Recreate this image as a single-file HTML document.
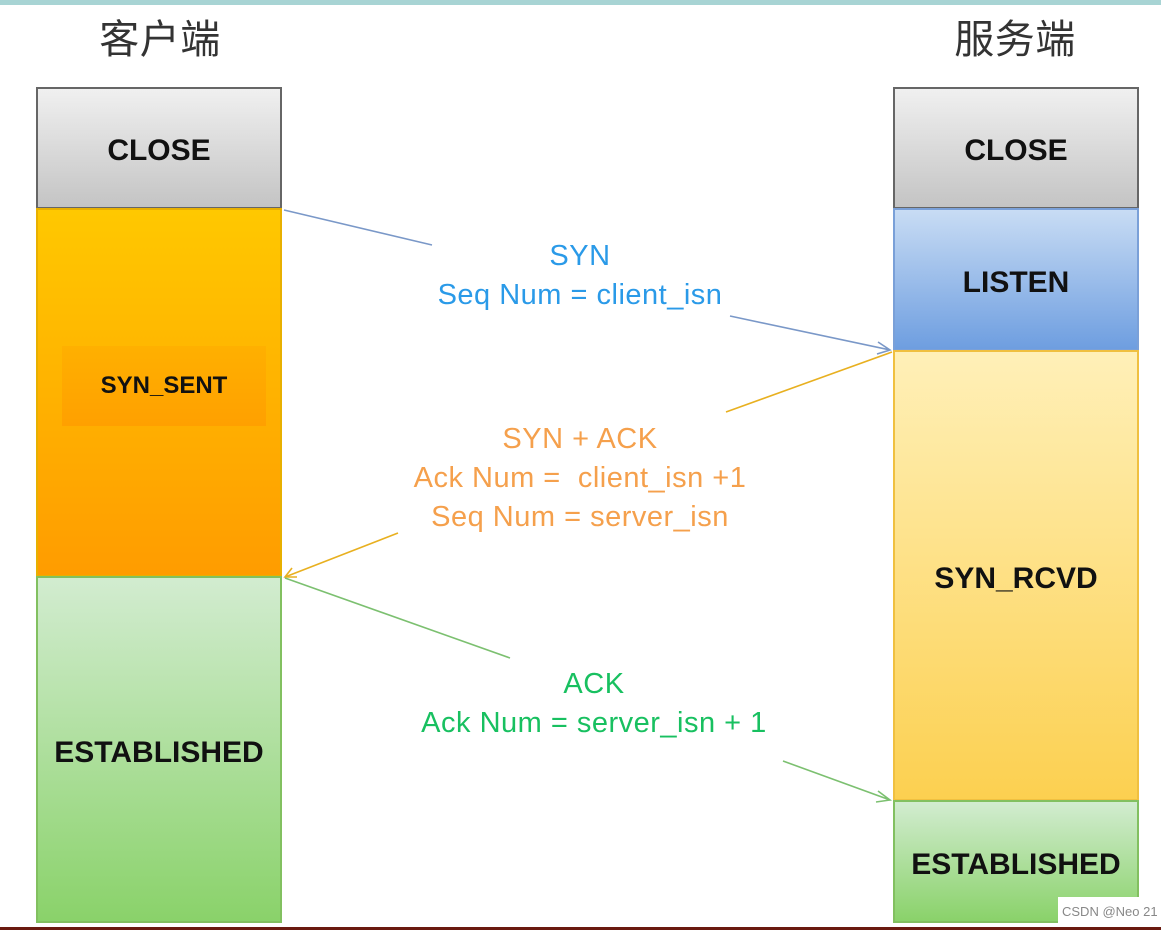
<!DOCTYPE html>
<html><head><meta charset="utf-8"><style>
body{margin:0;width:1161px;height:930px;background:#fff;position:relative;overflow:hidden;font-family:"Liberation Sans","Noto Sans CJK SC",sans-serif}
.b{position:absolute;box-sizing:border-box;border:2.5px solid;display:flex;align-items:center;justify-content:center;font-weight:bold;font-size:30px;color:#111;padding-top:6px}
.t{position:absolute;text-align:center;font-size:29px;line-height:39px;letter-spacing:0.5px}
</style></head><body>
<div style="position:absolute;left:0;top:0;width:1161px;height:5px;background:#a8d4d4"></div>
<div style="position:absolute;left:0;top:927px;width:1161px;height:3px;background:#6a1a10"></div>
<div class="t" style="left:60px;top:18px;width:200px;font-size:40px;line-height:44px;color:#333">客户端</div>
<div class="t" style="left:915px;top:18px;width:200px;font-size:40px;line-height:44px;color:#333">服务端</div>

<div class="b" style="left:36px;top:87px;width:246px;height:122px;border-color:#666;background:linear-gradient(#f0f0f0,#c4c4c4)">CLOSE</div>
<div class="b" style="left:36px;top:208px;width:246px;height:369px;border-color:#e8b000;background:linear-gradient(#ffc800,#ff9c00)"></div>
<div style="position:absolute;left:62px;top:346px;width:204px;height:80px;background:linear-gradient(#ffb000,#ffa000);display:flex;align-items:center;justify-content:center;font-weight:bold;font-size:24px;color:#111">SYN_SENT</div>
<div class="b" style="left:36px;top:576px;width:246px;height:347px;border-color:#82c060;background:linear-gradient(#d2ecd0,#8ad26a)">ESTABLISHED</div>

<div class="b" style="left:893px;top:87px;width:246px;height:122px;border-color:#666;background:linear-gradient(#f0f0f0,#c4c4c4)">CLOSE</div>
<div class="b" style="left:893px;top:208px;width:246px;height:143px;border-color:#7aa0d8;background:linear-gradient(#c8dcf4,#6e9ee0)">LISTEN</div>
<div class="b" style="left:893px;top:350px;width:246px;height:451px;border-color:#f0c040;background:linear-gradient(#fff0b8,#fcd050)">SYN_RCVD</div>
<div class="b" style="left:893px;top:800px;width:246px;height:123px;border-color:#82c060;background:linear-gradient(#d2ecd0,#8ad26a)">ESTABLISHED</div>

<svg width="1161" height="930" style="position:absolute;left:0;top:0">
<g stroke-width="1.6" fill="none">
<path d="M284 210 L432 245 M730 316 L890 350 M878 342 L890 350 L877 354" stroke="#7a98c8"/>
<path d="M892 352 L726 412 M398 533 L285 577 M292 568 L285 577 L297 577" stroke="#e8b020"/>
<path d="M285 578 L510 658 M783 761 L890 800 M878 791 L890 800 L876 802" stroke="#7cc070"/>
</g></svg>

<div class="t" style="left:380px;top:237px;width:400px;color:#2a9ae8">SYN<br>Seq Num = client_isn</div>
<div class="t" style="left:380px;top:420px;width:400px;color:#f5a04c">SYN + ACK<br>Ack Num = &nbsp;client_isn +1<br>Seq Num = server_isn</div>
<div class="t" style="left:394px;top:665px;width:400px;color:#18c060">ACK<br>Ack Num = server_isn + 1</div>

<div style="position:absolute;left:1058px;top:897px;width:103px;height:30px;background:#fff;font-size:13px;color:#888;line-height:30px;padding-left:4px">CSDN @Neo 21</div>
</body></html>
